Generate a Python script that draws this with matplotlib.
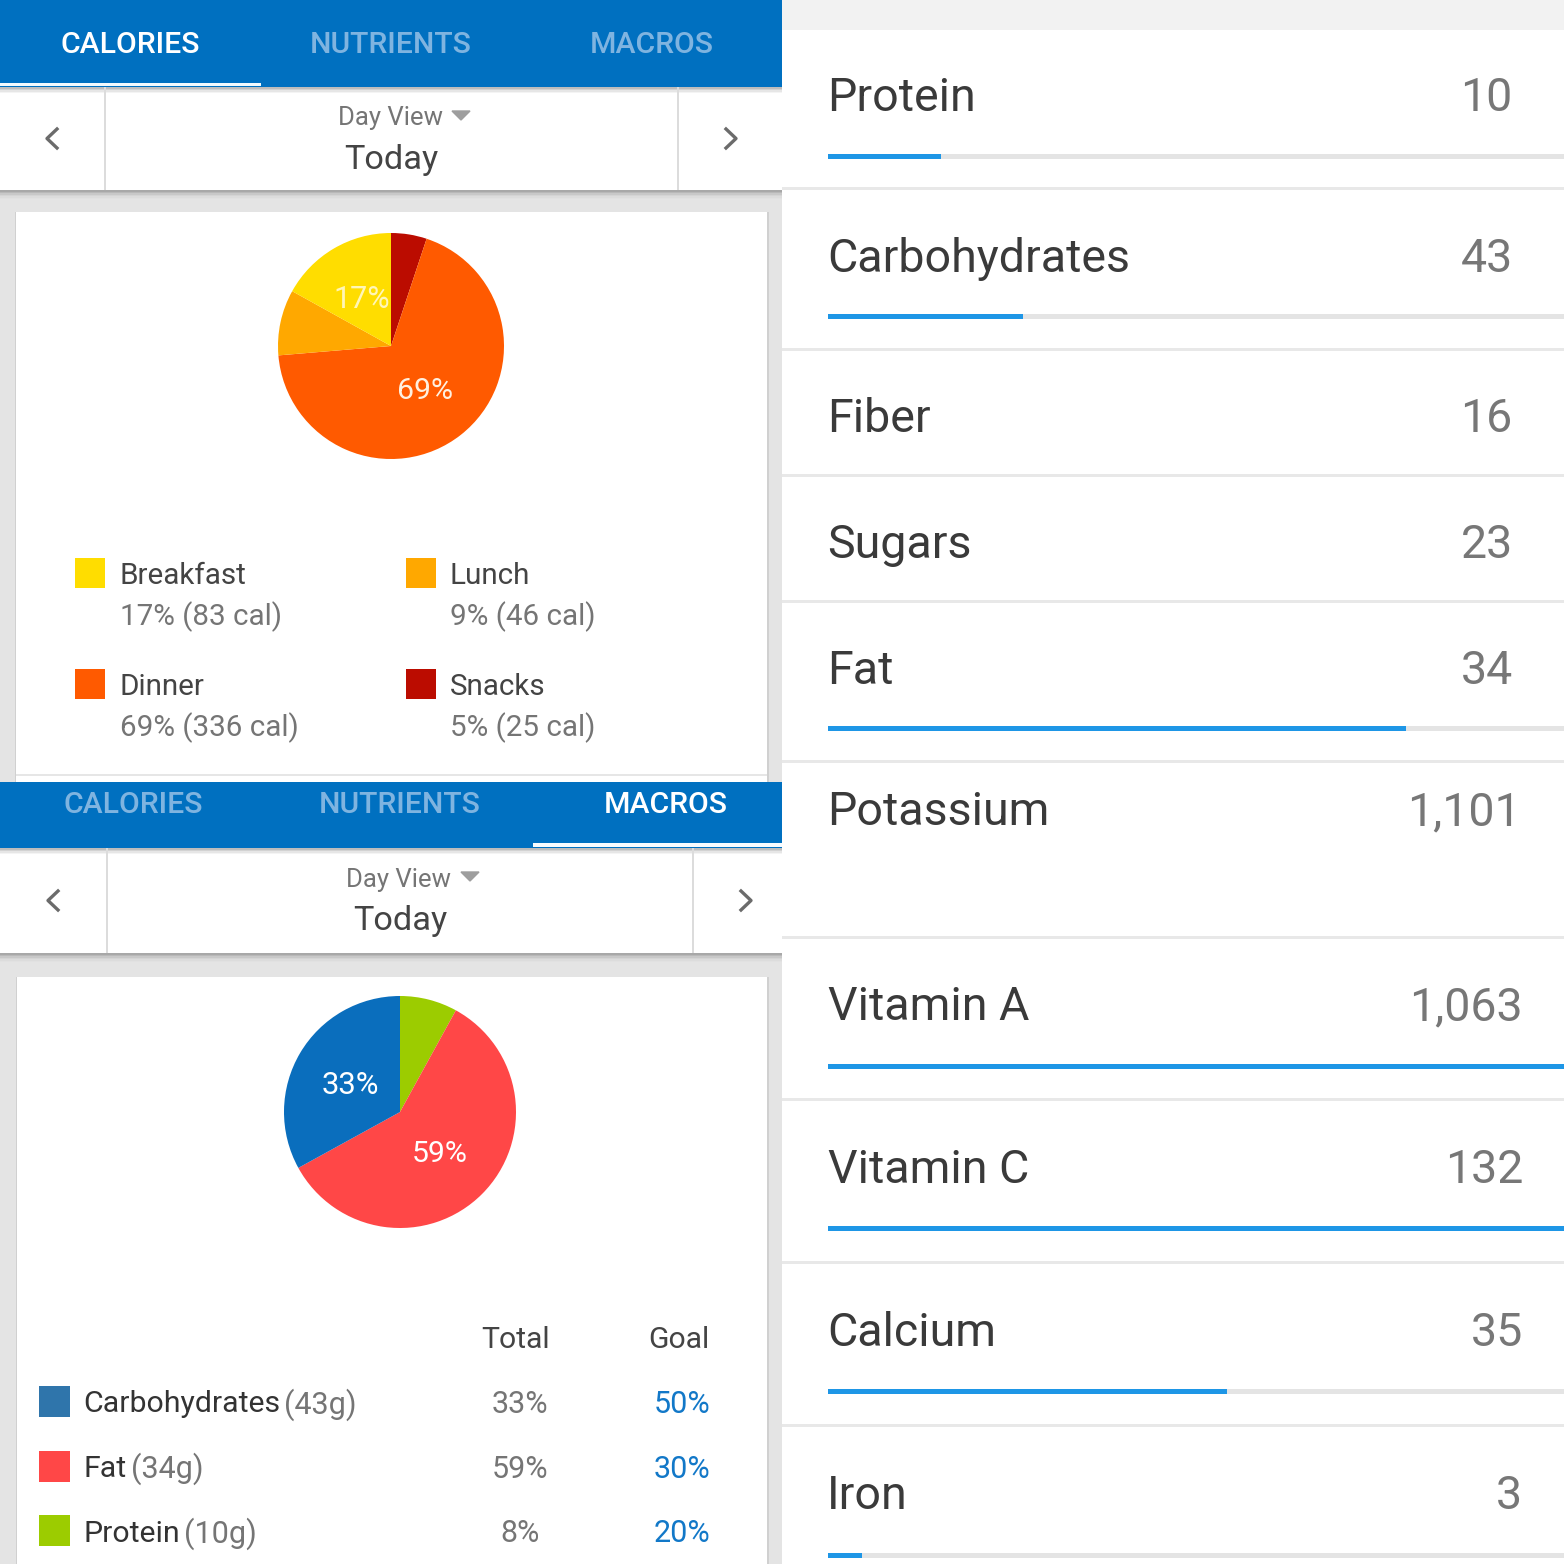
"""
Collage de pantallas de la app: calorias, macros y nutrientes
"""
import matplotlib
matplotlib.use('Agg')
import matplotlib.pyplot as plt
from matplotlib.patches import Rectangle, Wedge

plt.rcParams['font.family'] = ['Roboto', 'DejaVu Sans']

# Datos
tabs_top = ['CALORIES', 'NUTRIENTS', 'MACROS']

comidas = ['Breakfast', 'Lunch', 'Dinner', 'Snacks']
comidas_detalle = ['17% (83 cal)', '9% (46 cal)', '69% (336 cal)', '5% (25 cal)']
comidas_cal = [83, 46, 336, 25]
comidas_color = ['#ffdd00', '#ffa800', '#ff5a00', '#bb0c00']

macros = ['Carbohydrates', 'Fat', 'Protein']
macros_gramos = ['(43g)', '(34g)', '(10g)']
macros_total = [33, 59, 8]
macros_goal = [50, 30, 20]
macros_color = ['#0a6ebd', '#ff4747', '#9ccc00']
macros_leyenda = ['#2f75ab', '#ff4747', '#9ccc00']

nutrientes = ['Protein', 'Carbohydrates', 'Fiber', 'Sugars', 'Fat', 'Potassium',
              'Vitamin A', 'Vitamin C', 'Calcium', 'Iron']
nutrientes_valor = ['10', '43', '16', '23', '34', '1,101', '1,063', '132', '35', '3']
# fraccion de la barra de progreso (None = sin barra)
nutrientes_frac = [0.154, 0.265, None, None, 0.786, None, 1.0, 1.0, 0.542, 0.046]

AZUL = '#0070c0'
GRIS_TXT = '#757575'
OSCURO = '#333333'
FONDO = '#e4e4e4'

fig = plt.figure(figsize=(15.64, 15.64), dpi=100)
ax = fig.add_axes([0, 0, 1, 1])
ax.set_xlim(0, 1564)
ax.set_ylim(1564, 0)
ax.axis('off')


def rect(x, y, w, h, color, z=1):
    ax.add_patch(Rectangle((x, y), w, h, facecolor=color, edgecolor='none', zorder=z))


def texto(x, y, s, size=23, color=OSCURO, ha='left', **kw):
    ax.text(x, y, s, fontsize=size, color=color, ha=ha, va='center', zorder=5, **kw)


def chevron(x, y, d):
    ax.plot([x + 5 * d, x - 5 * d, x + 5 * d], [y - 9.5, y, y + 9.5],
            color='#6b6b6b', lw=2.4, zorder=5)


def triangulo(x, y):
    ax.fill([x - 9, x + 9, x], [y - 4, y - 4, y + 5], color='#9e9e9e', zorder=5)


def sombra(y, colores, z=2):
    # degradado a mano, una franja de 1.5 px por color
    for i, c in enumerate(colores):
        rect(0, y + i * 1.5, 782, 1.5, c, z)


def pastel(cx, cy, r, valores, colores, inicio):
    # sentido horario desde las 12, en coordenadas con y invertido
    ang = inicio
    total = sum(valores)
    for v, c in zip(valores, colores):
        paso = v / total * 360
        ax.add_patch(Wedge((cx, cy), r, ang, ang + paso, facecolor=c, edgecolor='none', zorder=3))
        ang += paso


def cabecera(y0, y1, tab_xs, activo, tab_y, sub_x, x_sep1, x_sep2, y_bar, chev_l, chev_r, size):
    rect(0, y0, 782, y1 - y0, AZUL, 2)
    for i, (t, x) in enumerate(zip(tabs_top, tab_xs)):
        color = 'white' if i == activo else '#7fb4e0'
        texto(x, tab_y, t, size=size, color=color, ha='center', fontweight='medium')
    # barra Day View
    rect(0, y1, 782, y_bar - y1, 'white', 2)
    sombra(y1, ['#bdbdbd', '#d2d2d2', '#e6e6e6', '#f4f4f4'], 2.5)
    sombra(y_bar, ['#a8a8a8', '#b8b8b8', '#c8c8c8', '#d4d4d4', '#dcdcdc', '#e1e1e1'], 2)
    rect(x_sep1, y1, 2, y_bar - y1, '#dcdcdc', 3)
    rect(x_sep2, y1, 2, y_bar - y1, '#dcdcdc', 3)
    chevron(chev_l, (y1 + y_bar) / 2, 1)
    chevron(chev_r, (y1 + y_bar) / 2, -1)
    texto(sub_x - 1, y1 + 31.5, 'Day View', size=18.5, color=GRIS_TXT, ha='center')
    triangulo(sub_x + 70, y1 + 28)
    texto(sub_x, y1 + 73, 'Today', size=24.7, color='#444444', ha='center')


# Panel superior izquierdo: calorias
rect(0, 0, 782, 782, FONDO, 0)
cabecera(0, 87, [130, 391, 652], 0, 45, 391, 104, 677, 190, 52, 731, 21.7)
rect(0, 83, 261, 3, '#f2fbff', 3)
rect(14.5, 212, 754, 570, '#d0d0d0', 0.5)
rect(16, 212, 751, 570, 'white', 1)
rect(16, 774, 751, 2, '#e6e6e6', 2)
pastel(391, 346, 113, comidas_cal[::-1], comidas_color[::-1], -90)
texto(362, 299, '17%', size=22, color='#fff6b8', ha='center')
texto(425, 391, '69%', size=21.8, color='#fff0e0', ha='center')

for i, (n, d, c) in enumerate(zip(comidas, comidas_detalle, comidas_color)):
    col, fila = i % 2, i // 2
    x = 75 + col * 331
    y = 558 + fila * 111
    rect(x, y, 30, 30, c, 3)
    texto(x + 45 - col, y + 18, n, size=21.3, color='#444444')
    texto(x + 45 - col, y + 58.5, d, size=21.3, color=GRIS_TXT)

# Panel inferior izquierdo: macros
rect(0, 782, 782, 782, FONDO, 0)
cabecera(782, 848, [133, 400, 666], 2, 805, 400, 106, 692, 953, 53, 746, 21.7)
rect(533, 843, 249, 4, '#f8fcff', 3)
rect(15.5, 977, 753, 587, '#d0d0d0', 0.5)
rect(17, 977, 750, 587, 'white', 1)
pastel(400, 1112, 116, macros_total[::-1], macros_color[::-1], -90)
texto(350, 1085, '33%', size=22.3, color='white', ha='center')
texto(440, 1154, '59%', size=21.8, color='white', ha='center')

texto(516, 1340, 'Total', size=21.7, color='#444444', ha='center')
texto(679, 1340, 'Goal', size=21.7, color='#444444', ha='center')
xs_gramos = [284, 131, 184]
for i, (n, g, t, m, c) in enumerate(zip(macros, macros_gramos, macros_total, macros_goal, macros_leyenda)):
    y = 1402 + i * 64.5
    rect(39, y - 16, 31, 31, c, 3)
    texto(83.5, y + 2.5, n, size=21.8, color='#333333')
    texto(xs_gramos[i], y + 2.5, g, size=22, color=GRIS_TXT)
    texto(520, y + 2.5, f'{t}%', size=22, color=GRIS_TXT, ha='center')
    texto(710, y + 2.5, f'{m}%', size=22, color='#1278c8', ha='right')

# Panel derecho: lista de nutrientes
rect(782, 0, 782, 1564, 'white', 0)
rect(782, 0, 782, 30, '#f2f2f2', 1)
ys_texto = [98, 259, 419, 545, 671, 812, 1007, 1170, 1333, 1496]
ys_barra = [156, 316, None, None, 728, None, 1066, 1228, 1391, 1555]
ys_linea = [188, 349, 475, 601, 761, 937, 1099, 1262, 1425]
xs_valor = [1512, 1513, 1512, 1513, 1513, 1521, 1523, 1523, 1523, 1522]
xs_nombre = [827, 827, 827, 827, 827, 827, 828, 828, 827, 827]
X0, ANCHO = 828, 736

for n, v, f, yt, yb, xv, xn in zip(nutrientes, nutrientes_valor, nutrientes_frac,
                                   ys_texto, ys_barra, xs_valor, xs_nombre):
    texto(xn, yt, n, size=33.5, color='#3a3a3a')
    texto(xv, yt, v, size=33.5, color='#777777', ha='right')
    if f is not None:
        rect(X0, yb - 2.5, ANCHO, 5, FONDO, 2)
        rect(X0, yb - 2.5, ANCHO * f, 5, '#1e96e6', 3)
for y in ys_linea:
    rect(782, y - 1.5, 782, 3, '#e8e8e8', 2)

fig.savefig('out.png', dpi=100)
